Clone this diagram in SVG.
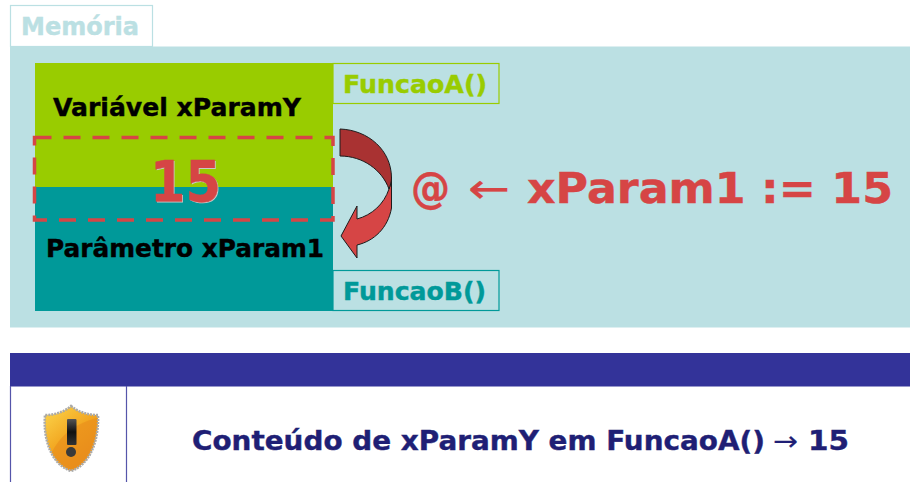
<svg xmlns="http://www.w3.org/2000/svg" width="910" height="482" viewBox="0 0 910 482">
<defs>
<style>
text{font-family:"DejaVu Sans","Liberation Sans",sans-serif;font-weight:700;stroke-width:.4}
.thin{font-weight:400;stroke-width:.2}
.box{fill:none;stroke-width:1.2}
.arr{stroke:#1c1c1c;stroke-width:1;stroke-linejoin:round}
.k{fill:#000;stroke:#000}
.r{fill:#d64545;stroke:#d64545}
.n{fill:#1f1f75;stroke:#1f1f75}
.pl{fill:#bbe0e3;stroke:#bbe0e3}
.gr{fill:#99cc00;stroke:#99cc00}
.te{fill:#009999;stroke:#009999}
</style>
<linearGradient id="sh" x1="0.1" y1="0" x2="0.8" y2="1">
<stop offset="0" stop-color="#fbd34a"/><stop offset="0.5" stop-color="#f2a51f"/><stop offset="1" stop-color="#e8891c"/>
</linearGradient>
<linearGradient id="ex" x1="0" y1="0" x2="0" y2="1">
<stop offset="0" stop-color="#555"/><stop offset="0.5" stop-color="#111"/><stop offset="1" stop-color="#333"/>
</linearGradient>
</defs>
<rect width="910" height="482" fill="#fff"/>
<g id="memoria-tab">
<rect x="10.500" y="5.500" width="142" height="41" fill="#fff" stroke="#bbe0e3" stroke-width="1.200"/>
<text class="pl" x="21" y="35" font-size="24" textLength="118" lengthAdjust="spacingAndGlyphs">Memória</text>
</g>
<rect id="panel" x="10" y="46.500" width="900" height="281" fill="#bbe0e3"/>
<g id="variavel">
<rect x="35" y="63" width="298" height="124" fill="#99cc00"/>
<text class="k" x="53" y="116" font-size="24" textLength="248" lengthAdjust="spacingAndGlyphs">Variável xParamY</text>
</g>
<g id="parametro">
<rect x="35" y="187" width="298" height="124" fill="#009999"/>
<text class="k" x="46" y="257" font-size="24" textLength="278" lengthAdjust="spacingAndGlyphs">Parâmetro xParam1</text>
</g>
<g id="funcaoA">
<rect class="box" x="333" y="63.500" width="166" height="40" stroke="#99cc00"/>
<text class="gr" x="343" y="93" font-size="24" textLength="144" lengthAdjust="spacingAndGlyphs">FuncaoA()</text>
</g>
<g id="funcaoB">
<rect class="box" x="333" y="270.500" width="166" height="40" stroke="#009999"/>
<text class="te" x="343" y="300" font-size="24" textLength="143" lengthAdjust="spacingAndGlyphs">FuncaoB()</text>
</g>
<g id="valor">
<text x="151" y="203" font-size="57" fill="#c8c8c8" textLength="71" lengthAdjust="spacingAndGlyphs">15</text>
<text class="r" x="150" y="201.500" font-size="57" textLength="71" lengthAdjust="spacingAndGlyphs">15</text>
<rect x="34.500" y="137.500" width="298.500" height="82.500" fill="none" stroke="#d64545" stroke-width="3.500" stroke-dasharray="17 12"/>
</g>
<g id="connectors">
<path class="arr" fill="#d64545" d="M389 189C390.500 185 391.500 181 391.500 177L391.500 208C388 228 374 241 357 245L357 258L341 236L357 206L357 219C372 215 384 204 389 189Z"/>
<path class="arr" fill="#a93232" d="M340 129C368 130 391.500 150 391.500 178C391.500 182 390 186 389 189C382 170 363 156 340 156Z"/>
</g>
<g id="formula">
<text class="r" x="411" y="203" font-size="42" textLength="39" lengthAdjust="spacingAndGlyphs">@</text>
<text class="r thin" x="468" y="203" font-size="42" textLength="42" lengthAdjust="spacingAndGlyphs">←</text>
<text class="r" x="527" y="203" font-size="42" textLength="366" lengthAdjust="spacingAndGlyphs">xParam1 := 15</text>
</g>
<rect id="banner" x="10" y="353" width="900" height="33.500" fill="#333399"/>
<g id="aviso">
<path d="M10.500 386V482M126.500 386V482" stroke="#5555aa" stroke-width="1.200" fill="none"/>
<path d="M71 406C78 412 88 415 98 415C99 437 92 464 71 471C50 464 43 437 45 415C55 415 64 412 71 406Z" fill="url(#sh)" stroke="#aaaaaa" stroke-width="2.500" stroke-dasharray="2 1"/>
<path d="M97 418C97 437 90 462 71 469C62 466 56 460 52 452C62 432 80 422 97 418Z" fill="#e88a1c" opacity=".55"/>
<rect x="67" y="419" width="9.500" height="26" rx="1" fill="url(#ex)"/>
<circle cx="71" cy="452" r="5" fill="#3a3a3a"/>
<text class="n" x="192" y="450" font-size="26.500" textLength="573" lengthAdjust="spacingAndGlyphs">Conteúdo de xParamY em FuncaoA()</text>
<text class="n thin" x="773" y="450" font-size="26.500" textLength="25" lengthAdjust="spacingAndGlyphs">→</text>
<text class="n" x="808" y="450" font-size="26.500" textLength="41" lengthAdjust="spacingAndGlyphs">15</text>
</g>
</svg>
